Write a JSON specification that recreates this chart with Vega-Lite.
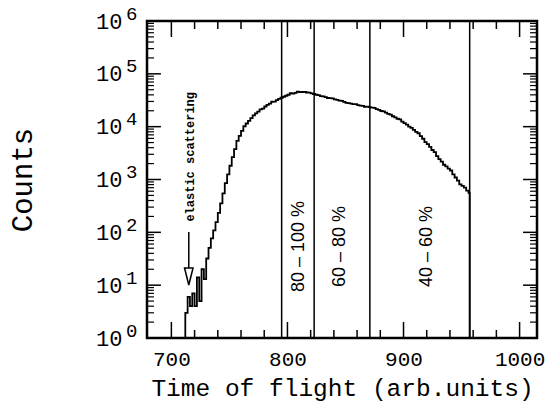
{
  "$schema": "https://vega.github.io/schema/vega-lite/v6.json",
  "width": 390,
  "height": 317,
  "autosize": "none",
  "padding": {"left": 147, "top": 21, "right": 9, "bottom": 71},
  "background": "white",
  "config": {
    "view": {"stroke": "black", "strokeWidth": 2.5},
    "axis": {"grid": false, "domain": false, "ticks": false, "labelColor": "black", "titleColor": "black", "labelFont": "Liberation Mono", "titleFont": "Liberation Mono", "titleFontWeight": "normal"}
  },
  "datasets": {
    "hist": [
      {"t": 711, "c": 1}, {"t": 712, "c": 3}, {"t": 714, "c": 6}, {"t": 716, "c": 4}, {"t": 718, "c": 7},
      {"t": 720, "c": 4}, {"t": 722, "c": 14}, {"t": 724, "c": 5}, {"t": 726, "c": 20}, {"t": 728, "c": 13},
      {"t": 730, "c": 32}, {"t": 732, "c": 51}, {"t": 734, "c": 77}, {"t": 736, "c": 109}, {"t": 738, "c": 156},
      {"t": 740, "c": 234}, {"t": 742, "c": 354}, {"t": 744, "c": 548}, {"t": 746, "c": 851}, {"t": 748, "c": 1245},
      {"t": 750, "c": 1820}, {"t": 752, "c": 2650}, {"t": 754, "c": 3770}, {"t": 756, "c": 5370}, {"t": 758, "c": 6680},
      {"t": 760, "c": 8320}, {"t": 762, "c": 10180}, {"t": 764, "c": 11480}, {"t": 766, "c": 12900}, {"t": 768, "c": 14550},
      {"t": 770, "c": 16400}, {"t": 772, "c": 17780}, {"t": 774, "c": 19190}, {"t": 776, "c": 21300}, {"t": 778, "c": 21900},
      {"t": 780, "c": 24100}, {"t": 782, "c": 25900}, {"t": 784, "c": 27300}, {"t": 786, "c": 29600}, {"t": 788, "c": 29900},
      {"t": 790, "c": 31920}, {"t": 792, "c": 33600}, {"t": 794, "c": 35280}, {"t": 796, "c": 36800}, {"t": 798, "c": 38460},
      {"t": 800, "c": 40180}, {"t": 802, "c": 42900}, {"t": 804, "c": 42300}, {"t": 806, "c": 43650}, {"t": 808, "c": 45900},
      {"t": 810, "c": 44900}, {"t": 812, "c": 45290}, {"t": 814, "c": 45600}, {"t": 816, "c": 44360}, {"t": 818, "c": 44200},
      {"t": 820, "c": 42850}, {"t": 822, "c": 41500}, {"t": 824, "c": 40180}, {"t": 826, "c": 39500}, {"t": 828, "c": 37840},
      {"t": 830, "c": 37600}, {"t": 832, "c": 36220}, {"t": 834, "c": 34900}, {"t": 836, "c": 34670}, {"t": 838, "c": 34300},
      {"t": 840, "c": 32890}, {"t": 842, "c": 32060}, {"t": 844, "c": 31190}, {"t": 846, "c": 30900}, {"t": 848, "c": 29580},
      {"t": 850, "c": 28300}, {"t": 852, "c": 27990}, {"t": 854, "c": 27290}, {"t": 856, "c": 26730}, {"t": 858, "c": 26700},
      {"t": 860, "c": 25590}, {"t": 862, "c": 25060}, {"t": 864, "c": 24660}, {"t": 866, "c": 23800}, {"t": 868, "c": 23880},
      {"t": 870, "c": 23500}, {"t": 872, "c": 22860}, {"t": 874, "c": 22600}, {"t": 876, "c": 21430}, {"t": 878, "c": 20750},
      {"t": 880, "c": 19800}, {"t": 882, "c": 19410}, {"t": 884, "c": 18410}, {"t": 886, "c": 17500}, {"t": 888, "c": 16900},
      {"t": 890, "c": 15740}, {"t": 892, "c": 14960}, {"t": 894, "c": 14130}, {"t": 896, "c": 13700}, {"t": 898, "c": 12420},
      {"t": 900, "c": 11640}, {"t": 902, "c": 10910}, {"t": 904, "c": 10000}, {"t": 906, "c": 9460}, {"t": 908, "c": 8690},
      {"t": 910, "c": 7980}, {"t": 912, "c": 7500}, {"t": 914, "c": 6640}, {"t": 916, "c": 5900}, {"t": 918, "c": 5100},
      {"t": 920, "c": 4670}, {"t": 922, "c": 4140}, {"t": 924, "c": 3620}, {"t": 926, "c": 3300}, {"t": 928, "c": 2770},
      {"t": 930, "c": 2430}, {"t": 932, "c": 2170}, {"t": 934, "c": 1900}, {"t": 936, "c": 1770}, {"t": 938, "c": 1600},
      {"t": 940, "c": 1480}, {"t": 942, "c": 1250}, {"t": 944, "c": 1090}, {"t": 946, "c": 955}, {"t": 948, "c": 810},
      {"t": 950, "c": 757}, {"t": 952, "c": 700}, {"t": 954, "c": 618}, {"t": 956, "c": 558}, {"t": 957, "c": 1}
    ],
    "regions": [{"x": 795}, {"x": 823}, {"x": 871}, {"x": 957}],
    "pct": [
      {"x": 810, "y": 54, "label": "80 – 100 %"},
      {"x": 845, "y": 54, "label": "60 – 80 %"},
      {"x": 920, "y": 54, "label": "40 – 60 %"}
    ],
    "elastic": [{"x": 716, "y": 2690, "label": "elastic scattering"}],
    "arrow": [{"x": 715, "y": 102, "y2": 21}],
    "head": [{"x": 715, "y": 14.6}],
    "xmaj": [{"v": 700}, {"v": 800}, {"v": 900}, {"v": 1000}],
    "xmin": [{"v": 720}, {"v": 740}, {"v": 760}, {"v": 780}, {"v": 820}, {"v": 840}, {"v": 860}, {"v": 880}, {"v": 920}, {"v": 940}, {"v": 960}, {"v": 980}],
    "ymaj": [{"v": 10}, {"v": 100}, {"v": 1000}, {"v": 10000}, {"v": 100000}],
    "ymin": [
      {"v": 2}, {"v": 3}, {"v": 4}, {"v": 5}, {"v": 6}, {"v": 7}, {"v": 8}, {"v": 9},
      {"v": 20}, {"v": 30}, {"v": 40}, {"v": 50}, {"v": 60}, {"v": 70}, {"v": 80}, {"v": 90},
      {"v": 200}, {"v": 300}, {"v": 400}, {"v": 500}, {"v": 600}, {"v": 700}, {"v": 800}, {"v": 900},
      {"v": 2000}, {"v": 3000}, {"v": 4000}, {"v": 5000}, {"v": 6000}, {"v": 7000}, {"v": 8000}, {"v": 9000},
      {"v": 20000}, {"v": 30000}, {"v": 40000}, {"v": 50000}, {"v": 60000}, {"v": 70000}, {"v": 80000}, {"v": 90000},
      {"v": 200000}, {"v": 300000}, {"v": 400000}, {"v": 500000}, {"v": 600000}, {"v": 700000}, {"v": 800000}, {"v": 900000}
    ]
  },
  "layer": [
    {
      "data": {"name": "hist"},
      "mark": {"type": "line", "interpolate": "step-after", "color": "black", "strokeWidth": 1.8},
      "encoding": {
        "x": {"field": "t", "type": "quantitative",
          "scale": {"domain": [679, 1015], "nice": false, "zero": false},
          "axis": {"orient": "bottom", "values": [700, 800, 900, 1000], "format": "d", "ticks": false, "labelFontSize": 21, "labelPadding": 10, "labelFlush": false, "labelOverlap": false,
            "title": "Time of flight (arb.units)", "titleFontSize": 24.5, "titlePadding": 7}},
        "y": {"field": "c", "type": "quantitative",
          "scale": {"type": "log", "domain": [1, 1000000], "nice": false},
          "axis": {"orient": "left", "values": [1, 10, 100, 1000, 10000, 100000, 1000000], "ticks": false, "labelFontSize": 22, "labelPadding": 25, "labelExpr": "'10'", "labelOverlap": false, "labelFlush": false,
            "title": "Counts", "titleFontSize": 29, "titlePadding": 58}}
      }
    },
    {
      "data": {"name": "regions"},
      "mark": {"type": "rule", "color": "black", "strokeWidth": 1.5},
      "encoding": {
        "x": {"field": "x", "type": "quantitative", "axis": null}
      }
    },
    {
      "data": {"name": "pct"},
      "mark": {"type": "text", "angle": 270, "font": "Liberation Sans", "fontSize": 18, "color": "black", "align": "center", "baseline": "middle"},
      "encoding": {
        "x": {"field": "x", "type": "quantitative", "axis": null},
        "y": {"field": "y", "type": "quantitative", "axis": null},
        "text": {"field": "label"}
      }
    },
    {
      "data": {"name": "elastic"},
      "mark": {"type": "text", "angle": 270, "font": "Liberation Mono", "fontWeight": "bold", "fontSize": 12, "color": "black", "align": "center", "baseline": "middle"},
      "encoding": {
        "x": {"field": "x", "type": "quantitative", "axis": null},
        "y": {"field": "y", "type": "quantitative",
          "axis": {"orient": "left", "values": [1, 10, 100, 1000, 10000, 100000, 1000000], "ticks": false, "labelFontSize": 19, "labelPadding": 10, "labelOffset": -8, "labelOverlap": false, "labelFlush": false, "title": null,
            "labelExpr": "format(log(datum.value)/LN10, '.0f')"}},
        "text": {"field": "label"}
      }
    },
    {
      "data": {"name": "arrow"},
      "mark": {"type": "rule", "color": "black", "strokeWidth": 1.5},
      "encoding": {
        "x": {"field": "x", "type": "quantitative", "axis": null},
        "y": {"field": "y", "type": "quantitative", "axis": null},
        "y2": {"field": "y2"}
      }
    },
    {
      "data": {"name": "head"},
      "mark": {"type": "point", "shape": "M-0.5,-1L0.5,-1L0,1Z", "size": 289, "filled": true, "fill": "white", "stroke": "black", "strokeWidth": 1.5, "opacity": 1},
      "encoding": {
        "x": {"field": "x", "type": "quantitative", "axis": null},
        "y": {"field": "y", "type": "quantitative", "axis": null}
      }
    },
    {
      "data": {"name": "xmaj"},
      "transform": [{"calculate": "1", "as": "a"}, {"calculate": "2.008", "as": "b"}],
      "mark": {"type": "rule", "color": "black", "strokeWidth": 1.5},
      "encoding": {
        "x": {"field": "v", "type": "quantitative", "axis": null},
        "y": {"field": "a", "type": "quantitative", "axis": null},
        "y2": {"field": "b"}
      }
    },
    {
      "data": {"name": "xmaj"},
      "transform": [{"calculate": "1000000", "as": "a"}, {"calculate": "498000", "as": "b"}],
      "mark": {"type": "rule", "color": "black", "strokeWidth": 1.5},
      "encoding": {
        "x": {"field": "v", "type": "quantitative", "axis": null},
        "y": {"field": "a", "type": "quantitative", "axis": null},
        "y2": {"field": "b"}
      }
    },
    {
      "data": {"name": "xmin"},
      "transform": [{"calculate": "1", "as": "a"}, {"calculate": "1.417", "as": "b"}],
      "mark": {"type": "rule", "color": "black", "strokeWidth": 1.5},
      "encoding": {
        "x": {"field": "v", "type": "quantitative", "axis": null},
        "y": {"field": "a", "type": "quantitative", "axis": null},
        "y2": {"field": "b"}
      }
    },
    {
      "data": {"name": "xmin"},
      "transform": [{"calculate": "1000000", "as": "a"}, {"calculate": "705700", "as": "b"}],
      "mark": {"type": "rule", "color": "black", "strokeWidth": 1.5},
      "encoding": {
        "x": {"field": "v", "type": "quantitative", "axis": null},
        "y": {"field": "a", "type": "quantitative", "axis": null},
        "y2": {"field": "b"}
      }
    },
    {
      "data": {"name": "ymaj"},
      "transform": [{"calculate": "679", "as": "a"}, {"calculate": "691", "as": "b"}],
      "mark": {"type": "rule", "color": "black", "strokeWidth": 1.5},
      "encoding": {
        "y": {"field": "v", "type": "quantitative", "axis": null},
        "x": {"field": "a", "type": "quantitative", "axis": null},
        "x2": {"field": "b"}
      }
    },
    {
      "data": {"name": "ymaj"},
      "transform": [{"calculate": "1015", "as": "a"}, {"calculate": "1003", "as": "b"}],
      "mark": {"type": "rule", "color": "black", "strokeWidth": 1.5},
      "encoding": {
        "y": {"field": "v", "type": "quantitative", "axis": null},
        "x": {"field": "a", "type": "quantitative", "axis": null},
        "x2": {"field": "b"}
      }
    },
    {
      "data": {"name": "ymin"},
      "transform": [{"calculate": "679", "as": "a"}, {"calculate": "685", "as": "b"}],
      "mark": {"type": "rule", "color": "black", "strokeWidth": 1.2},
      "encoding": {
        "y": {"field": "v", "type": "quantitative", "axis": null},
        "x": {"field": "a", "type": "quantitative", "axis": null},
        "x2": {"field": "b"}
      }
    },
    {
      "data": {"name": "ymin"},
      "transform": [{"calculate": "1015", "as": "a"}, {"calculate": "1009", "as": "b"}],
      "mark": {"type": "rule", "color": "black", "strokeWidth": 1.2},
      "encoding": {
        "y": {"field": "v", "type": "quantitative", "axis": null},
        "x": {"field": "a", "type": "quantitative", "axis": null},
        "x2": {"field": "b"}
      }
    }
  ],
  "resolve": {"axis": {"x": "independent", "y": "independent"}}
}
